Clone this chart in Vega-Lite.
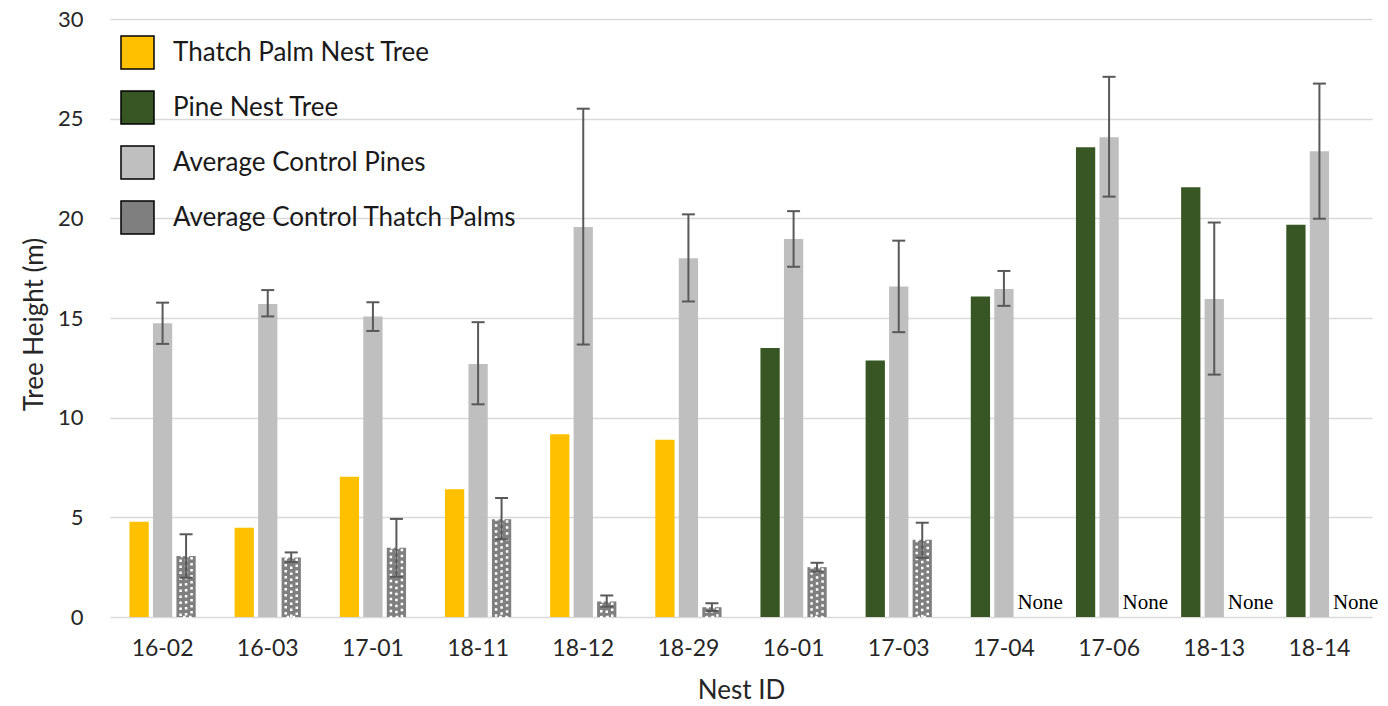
{
  "$schema": "https://vega.github.io/schema/vega-lite/v6.json",
  "width": 1262,
  "height": 598,
  "autosize": {"type": "none"},
  "padding": {"left": 110, "top": 19, "right": 16, "bottom": 89},
  "background": "white",
  "config": {"view": {"stroke": null}, "font": "Lato"},
  "data": {
    "values": [
      {"nest": "16-02", "slot": "a", "type": "Thatch Palm Nest Tree", "value": 4.78},
      {"nest": "16-02", "slot": "b", "type": "Average Control Pines", "value": 14.74, "lo": 13.7, "hi": 15.77},
      {"nest": "16-02", "slot": "c", "type": "Average Control Thatch Palms", "value": 3.06, "lo": 1.97, "hi": 4.15},
      {"nest": "16-03", "slot": "a", "type": "Thatch Palm Nest Tree", "value": 4.48},
      {"nest": "16-03", "slot": "b", "type": "Average Control Pines", "value": 15.7, "lo": 15.08, "hi": 16.4},
      {"nest": "16-03", "slot": "c", "type": "Average Control Thatch Palms", "value": 2.98, "lo": 2.76, "hi": 3.24},
      {"nest": "17-01", "slot": "a", "type": "Thatch Palm Nest Tree", "value": 7.04},
      {"nest": "17-01", "slot": "b", "type": "Average Control Pines", "value": 15.07, "lo": 14.35, "hi": 15.79},
      {"nest": "17-01", "slot": "c", "type": "Average Control Thatch Palms", "value": 3.48, "lo": 2.02, "hi": 4.92},
      {"nest": "18-11", "slot": "a", "type": "Thatch Palm Nest Tree", "value": 6.41},
      {"nest": "18-11", "slot": "b", "type": "Average Control Pines", "value": 12.69, "lo": 10.67, "hi": 14.79},
      {"nest": "18-11", "slot": "c", "type": "Average Control Thatch Palms", "value": 4.9, "lo": 3.9, "hi": 5.97},
      {"nest": "18-12", "slot": "a", "type": "Thatch Palm Nest Tree", "value": 9.17},
      {"nest": "18-12", "slot": "b", "type": "Average Control Pines", "value": 19.56, "lo": 13.67, "hi": 25.5},
      {"nest": "18-12", "slot": "c", "type": "Average Control Thatch Palms", "value": 0.78, "lo": 0.52, "hi": 1.08},
      {"nest": "18-29", "slot": "a", "type": "Thatch Palm Nest Tree", "value": 8.89},
      {"nest": "18-29", "slot": "b", "type": "Average Control Pines", "value": 18.0, "lo": 15.83, "hi": 20.2},
      {"nest": "18-29", "slot": "c", "type": "Average Control Thatch Palms", "value": 0.49, "lo": 0.3, "hi": 0.69},
      {"nest": "16-01", "slot": "a", "type": "Pine Nest Tree", "value": 13.49},
      {"nest": "16-01", "slot": "b", "type": "Average Control Pines", "value": 18.96, "lo": 17.57, "hi": 20.36},
      {"nest": "16-01", "slot": "c", "type": "Average Control Thatch Palms", "value": 2.5, "lo": 2.28, "hi": 2.72},
      {"nest": "17-03", "slot": "a", "type": "Pine Nest Tree", "value": 12.87},
      {"nest": "17-03", "slot": "b", "type": "Average Control Pines", "value": 16.58, "lo": 14.29, "hi": 18.88},
      {"nest": "17-03", "slot": "c", "type": "Average Control Thatch Palms", "value": 3.87, "lo": 2.97, "hi": 4.73},
      {"nest": "17-04", "slot": "a", "type": "Pine Nest Tree", "value": 16.08},
      {"nest": "17-04", "slot": "b", "type": "Average Control Pines", "value": 16.45, "lo": 15.61, "hi": 17.36},
      {"nest": "17-04", "slot": "c", "note": "None"},
      {"nest": "17-06", "slot": "a", "type": "Pine Nest Tree", "value": 23.57},
      {"nest": "17-06", "slot": "b", "type": "Average Control Pines", "value": 24.07, "lo": 21.09, "hi": 27.1},
      {"nest": "17-06", "slot": "c", "note": "None"},
      {"nest": "18-13", "slot": "a", "type": "Pine Nest Tree", "value": 21.56},
      {"nest": "18-13", "slot": "b", "type": "Average Control Pines", "value": 15.95, "lo": 12.16, "hi": 19.79},
      {"nest": "18-13", "slot": "c", "note": "None"},
      {"nest": "18-14", "slot": "a", "type": "Pine Nest Tree", "value": 19.68},
      {"nest": "18-14", "slot": "b", "type": "Average Control Pines", "value": 23.36, "lo": 19.98, "hi": 26.76},
      {"nest": "18-14", "slot": "c", "note": "None"}
    ]
  },
  "encoding": {
    "x": {
      "field": "nest", "type": "nominal", "sort": null,
      "scale": {"paddingInner": 0.37, "paddingOuter": 0.185},
      "title": "Nest ID",
      "axis": {
        "labelAngle": 0, "labelFontSize": 23, "labelColor": "#262626", "labelPadding": 20,
        "domain": false, "ticks": false, "titleFontSize": 26, "titleFontWeight": "normal",
        "titleColor": "#262626", "titlePadding": 17
      }
    },
    "xOffset": {"field": "slot", "type": "nominal", "sort": ["a", "b", "c"], "scale": {"paddingInner": 0.18, "paddingOuter": 0}}
  },
  "layer": [
    {
      "transform": [{"filter": "isValid(datum.value)"}],
      "mark": {"type": "bar"},
      "encoding": {
        "y": {
          "field": "value", "type": "quantitative", "title": "Tree Height (m)",
          "scale": {"domain": [0, 30], "nice": false},
          "axis": {
            "values": [0, 5, 10, 15, 20, 25, 30], "grid": true, "gridColor": "#d9d9d9", "gridWidth": 1.5,
            "domain": false, "ticks": false, "labelFontSize": 22, "labelColor": "#262626", "labelPadding": 27,
            "titleFontSize": 26, "titleFontWeight": "normal", "titleColor": "#262626", "titlePadding": 10,
            "titleY": 305, "titleAlign": "center"
          }
        },
        "color": {
          "field": "type", "type": "nominal",
          "scale": {
            "domain": ["Thatch Palm Nest Tree", "Pine Nest Tree", "Average Control Pines", "Average Control Thatch Palms"],
            "range": ["#FFC000", "#375623", "#BFBFBF", "#7F7F7F"]
          },
          "legend": {
            "title": null, "orient": "none", "legendX": 10, "legendY": 16,
            "symbolType": "square", "symbolSize": 1089, "symbolStrokeColor": "#000", "symbolStrokeWidth": 1.5,
            "symbolOpacity": 1, "labelFontSize": 26, "labelColor": "#1a1a1a", "labelOffset": 18,
            "rowPadding": 16, "labelLimit": 500
          }
        }
      }
    },
    {
      "transform": [{"filter": "datum.slot == 'c' && isValid(datum.value)"}],
      "mark": {"type": "bar", "width": 11, "fill": null, "fillOpacity": 0, "stroke": "white", "strokeWidth": 2.5, "strokeDash": [2.5, 3.5], "strokeCap": "butt"},
      "encoding": {
        "y": {"field": "value", "type": "quantitative", "title": "Tree Height (m)"}, "y2": {"datum": 0}
      }
    },
    {
      "transform": [{"filter": "datum.slot == 'c' && isValid(datum.value)"}],
      "mark": {"type": "rule", "color": "white", "strokeWidth": 2.5, "strokeDash": [2.5, 3.5], "strokeDashOffset": 3, "strokeCap": "butt"},
      "encoding": {
        "y": {"field": "value", "type": "quantitative", "title": "Tree Height (m)"}, "y2": {"datum": 0}
      }
    },
    {
      "transform": [{"filter": "isValid(datum.lo)"}],
      "mark": {"type": "rule", "color": "#595959", "strokeWidth": 2},
      "encoding": {"y": {"field": "lo", "type": "quantitative", "title": "Tree Height (m)"}, "y2": {"field": "hi"}}
    },
    {
      "transform": [{"filter": "isValid(datum.lo)"}],
      "mark": {"type": "tick", "color": "#595959", "thickness": 2, "size": 13, "orient": "horizontal", "opacity": 1},
      "encoding": {"y": {"field": "lo", "type": "quantitative", "title": "Tree Height (m)"}}
    },
    {
      "transform": [{"filter": "isValid(datum.hi)"}],
      "mark": {"type": "tick", "color": "#595959", "thickness": 2, "size": 13, "orient": "horizontal", "opacity": 1},
      "encoding": {"y": {"field": "hi", "type": "quantitative", "title": "Tree Height (m)"}}
    },
    {
      "transform": [{"filter": "datum.note != null"}],
      "mark": {"type": "text", "font": "Liberation Serif", "fontSize": 21, "color": "#000", "align": "left", "baseline": "bottom", "dx": -10, "dy": -4},
      "encoding": {"y": {"datum": 0, "type": "quantitative"}, "text": {"field": "note"}}
    }
  ]
}
